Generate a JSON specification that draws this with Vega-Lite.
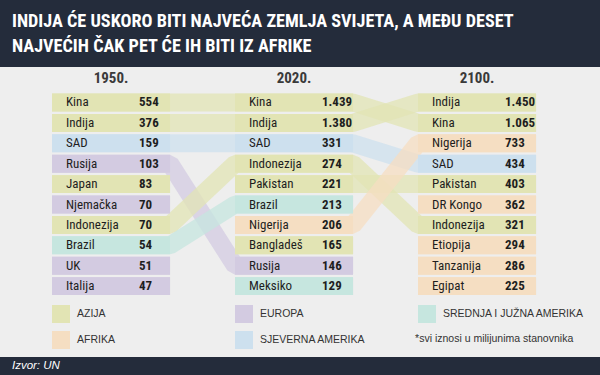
{
  "$schema": "https://vega.github.io/schema/vega-lite/v6.json",
  "width": 600,
  "height": 290,
  "autosize": {"type": "none"},
  "padding": {"top": 67, "bottom": 18, "left": 0, "right": 0},
  "background": "#242c3b",
  "title": {
    "text": ["INDIJA ĆE USKORO BITI NAJVEĆA ZEMLJA SVIJETA, A MEĐU DESET", "NAJVEĆIH ČAK PET ĆE IH BITI IZ AFRIKE"],
    "anchor": "start",
    "frame": "group",
    "orient": "top",
    "offset": 11,
    "dx": 12,
    "color": "#ffffff",
    "font": "'Roboto Condensed', 'Liberation Sans Narrow', sans-serif",
    "fontSize": 18.2,
    "fontWeight": "bold",
    "lineHeight": 25
  },
  "config": {
    "view": {"fill": "#eeeeee", "stroke": null},
    "locale": {"number": {"decimal": ",", "thousands": ".", "grouping": [3], "currency": ["", " €"]}}
  },
  "data": {
    "values": [
      {"year": 1950, "rank": 1, "country": "Kina", "value": 554, "continent": "AZIJA"},
      {"year": 1950, "rank": 2, "country": "Indija", "value": 376, "continent": "AZIJA"},
      {"year": 1950, "rank": 3, "country": "SAD", "value": 159, "continent": "SJEVERNA AMERIKA"},
      {"year": 1950, "rank": 4, "country": "Rusija", "value": 103, "continent": "EUROPA"},
      {"year": 1950, "rank": 5, "country": "Japan", "value": 83, "continent": "AZIJA"},
      {"year": 1950, "rank": 6, "country": "Njemačka", "value": 70, "continent": "EUROPA"},
      {"year": 1950, "rank": 7, "country": "Indonezija", "value": 70, "continent": "AZIJA"},
      {"year": 1950, "rank": 8, "country": "Brazil", "value": 54, "continent": "SREDNJA I JUŽNA AMERIKA"},
      {"year": 1950, "rank": 9, "country": "UK", "value": 51, "continent": "EUROPA"},
      {"year": 1950, "rank": 10, "country": "Italija", "value": 47, "continent": "EUROPA"},
      {"year": 2020, "rank": 1, "country": "Kina", "value": 1439, "continent": "AZIJA"},
      {"year": 2020, "rank": 2, "country": "Indija", "value": 1380, "continent": "AZIJA"},
      {"year": 2020, "rank": 3, "country": "SAD", "value": 331, "continent": "SJEVERNA AMERIKA"},
      {"year": 2020, "rank": 4, "country": "Indonezija", "value": 274, "continent": "AZIJA"},
      {"year": 2020, "rank": 5, "country": "Pakistan", "value": 221, "continent": "AZIJA"},
      {"year": 2020, "rank": 6, "country": "Brazil", "value": 213, "continent": "SREDNJA I JUŽNA AMERIKA"},
      {"year": 2020, "rank": 7, "country": "Nigerija", "value": 206, "continent": "AFRIKA"},
      {"year": 2020, "rank": 8, "country": "Bangladeš", "value": 165, "continent": "AZIJA"},
      {"year": 2020, "rank": 9, "country": "Rusija", "value": 146, "continent": "EUROPA"},
      {"year": 2020, "rank": 10, "country": "Meksiko", "value": 129, "continent": "SREDNJA I JUŽNA AMERIKA"},
      {"year": 2100, "rank": 1, "country": "Indija", "value": 1450, "continent": "AZIJA"},
      {"year": 2100, "rank": 2, "country": "Kina", "value": 1065, "continent": "AZIJA"},
      {"year": 2100, "rank": 3, "country": "Nigerija", "value": 733, "continent": "AFRIKA"},
      {"year": 2100, "rank": 4, "country": "SAD", "value": 434, "continent": "SJEVERNA AMERIKA"},
      {"year": 2100, "rank": 5, "country": "Pakistan", "value": 403, "continent": "AZIJA"},
      {"year": 2100, "rank": 6, "country": "DR Kongo", "value": 362, "continent": "AFRIKA"},
      {"year": 2100, "rank": 7, "country": "Indonezija", "value": 321, "continent": "AZIJA"},
      {"year": 2100, "rank": 8, "country": "Etiopija", "value": 294, "continent": "AFRIKA"},
      {"year": 2100, "rank": 9, "country": "Tanzanija", "value": 286, "continent": "AFRIKA"},
      {"year": 2100, "rank": 10, "country": "Egipat", "value": 225, "continent": "AFRIKA"}
    ]
  },
  "transform": [
    {"calculate": "indexof([1950, 2020, 2100], datum.year)", "as": "c"},
    {"calculate": "datum.c + 0.645", "as": "ce"},
    {"calculate": "datum.rank - 0.44", "as": "r0"},
    {"calculate": "datum.rank + 0.44", "as": "r1"},
    {"calculate": "datum.year + '.'", "as": "hdr"}
  ],
  "layer": [
    {
      "transform": [{"fold": ["c", "ce"], "as": ["edge", "pos"]}],
      "mark": {"type": "line", "strokeWidth": 18, "opacity": 0.75, "strokeCap": "butt", "strokeJoin": "bevel"},
      "encoding": {
        "x": {"field": "pos", "type": "quantitative", "scale": {"domain": [-0.2842, 2.9945], "nice": false, "zero": false}, "axis": null},
        "y": {"field": "rank", "type": "quantitative", "scale": {"domain": [-0.74, 13.475], "nice": false, "zero": false, "reverse": true}, "axis": null},
        "detail": {"field": "country"},
        "order": {"field": "pos", "type": "quantitative"},
        "stroke": {
          "field": "continent", "type": "nominal",
          "scale": {"domain": ["SJEVERNA AMERIKA", "AFRIKA", "SREDNJA I JUŽNA AMERIKA", "EUROPA", "AZIJA"], "range": ["#cde0ee", "#f5dec2", "#c6e6df", "#d3cbe1", "#e2e4b4"]},
          "legend": null
        }
      }
    },
    {
      "mark": {"type": "rect"},
      "encoding": {
        "x": {"field": "c", "type": "quantitative", "scale": {"domain": [-0.2842, 2.9945], "nice": false, "zero": false}, "axis": null},
        "x2": {"field": "ce"},
        "y": {"field": "r0", "type": "quantitative", "scale": {"domain": [-0.74, 13.475], "nice": false, "zero": false, "reverse": true}, "axis": null},
        "y2": {"field": "r1"},
        "color": {
          "field": "continent", "type": "nominal",
          "scale": {"domain": ["AZIJA", "EUROPA", "SREDNJA I JUŽNA AMERIKA", "AFRIKA", "SJEVERNA AMERIKA"], "range": ["#e2e4b4", "#d3cbe1", "#c6e6df", "#f5dec2", "#cde0ee"]},
          "legend": {
            "title": null,
            "orient": "none",
            "direction": "horizontal",
            "legendX": 52,
            "legendY": 238,
            "columns": 3,
            "gridAlign": "all",
            "columnPadding": 16,
            "rowPadding": 8,
            "symbolType": "square",
            "symbolSize": 324,
            "symbolStrokeWidth": 0,
            "symbolOpacity": 1,
            "labelOffset": 7,
            "labelFont": "'Liberation Sans Narrow', sans-serif",
            "labelFontSize": 10.5,
            "labelColor": "#333333",
            "labelLimit": 300
          }
        }
      }
    },
    {
      "mark": {"type": "text", "align": "left", "baseline": "middle", "dx": 14, "font": "'Roboto Condensed', 'Liberation Sans Narrow', sans-serif", "fontSize": 13, "color": "#1e1e1e"},
      "encoding": {
        "x": {"field": "c", "type": "quantitative"},
        "y": {"field": "rank", "type": "quantitative"},
        "text": {"field": "country"}
      }
    },
    {
      "mark": {"type": "text", "align": "left", "baseline": "middle", "dx": 87, "font": "'Roboto Condensed', 'Liberation Sans Narrow', sans-serif", "fontSize": 13, "fontWeight": "bold", "color": "#1e1e1e"},
      "encoding": {
        "x": {"field": "c", "type": "quantitative"},
        "y": {"field": "rank", "type": "quantitative"},
        "text": {"field": "value", "type": "quantitative", "format": ",d"}
      }
    },
    {
      "transform": [{"filter": "datum.rank == 1"}],
      "mark": {"type": "text", "align": "center", "baseline": "middle", "dx": 59, "font": "'Roboto Condensed', 'Liberation Sans Narrow', sans-serif", "fontSize": 15, "fontWeight": "bold", "color": "#3a3a3a"},
      "encoding": {
        "x": {"field": "c", "type": "quantitative"},
        "y": {"datum": -0.2},
        "text": {"field": "hdr"}
      }
    },
    {
      "data": {"values": [{"note": "*svi iznosi u milijunima stanovnika"}]},
      "mark": {"type": "text", "align": "left", "baseline": "middle", "font": "'Liberation Sans Narrow', sans-serif", "fontSize": 10.5, "color": "#333333"},
      "encoding": {
        "x": {"datum": 1.984},
        "y": {"datum": 12.6},
        "text": {"field": "note"}
      }
    },
    {
      "data": {"values": [{"src": "Izvor: UN"}]},
      "mark": {"type": "text", "align": "left", "baseline": "middle", "font": "'Liberation Sans Narrow', sans-serif", "fontSize": 11.5, "fontStyle": "italic", "color": "#ffffff", "clip": false},
      "encoding": {
        "x": {"datum": -0.219},
        "y": {"datum": 13.92},
        "text": {"field": "src"}
      }
    }
  ]
}
